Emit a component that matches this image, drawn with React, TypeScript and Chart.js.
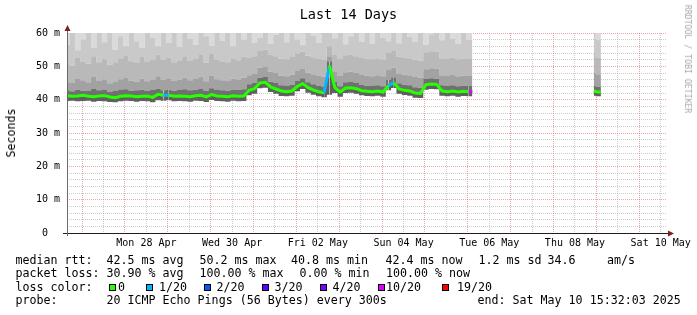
import React, { useEffect, useRef } from "react";
import { Chart, registerables } from "chart.js";

Chart.register(...registerables);

const FONT = "'DejaVu Sans Mono', monospace";

// hours since graph start (Sat 26 Apr 15:32:03); null row marks the data gap
const times = [
  0, 3, 6, 9, 12, 15, 18, 21, 24, 27, 30, 33, 36, 39, 42, 45, 48, 51, 54, 57,
  60, 63, 66, 69, 72, 75, 78, 81, 84, 87, 90, 93, 96, 99, 102, 105, 108, 111, 114, 117,
  120, 123, 126, 129, 132, 135, 138, 141, 144, 147, 150, 153, 156, 159, 162, 165, 168, 171, 174, 177,
  180, 183, 186, 189, 192, 195, 198, 201, 204, 207, 210, 213, 216, 219, 222, 225, 227,
  230,
  295, 297, 299,
];

const median = [
  41.2, 41.0, 41.1, 41.3, 41.0, 40.9, 41.1, 41.2, 40.8, 40.6,
  41.0, 41.2, 41.1, 40.9, 41.0, 41.1, 40.7, 41.6, 41.3, 41.3,
  41.0, 41.1, 41.0, 40.9, 41.2, 41.3, 40.8, 41.5, 41.1, 41.0,
  40.9, 41.2, 41.0, 41.1,
  42.8, 43.3, 45.0, 45.2, 43.8, 43.2, 42.6, 42.4, 42.6, 44.0,
  44.8, 43.6, 42.9, 42.4, 42.1, 50.2, 43.6, 42.3, 43.5, 43.6,
  43.3, 42.7, 42.5, 42.4, 42.6, 42.3, 44.2, 45.1, 43.2, 42.8,
  42.6, 42.0, 41.9, 44.5, 44.7, 44.6, 42.6, 42.4, 42.6, 42.3,
  42.5, 42.4, 42.4,
  null,
  42.6, 42.3, 42.3,
];

// lost pings out of 20 for each step
const lossCount = [
  0, 0, 0, 0, 0, 0, 0, 0, 0, 0,
  0, 0, 0, 0, 0, 0, 0, 0, 0, 1,
  0, 0, 0, 0, 0, 0, 0, 0, 0, 0,
  0, 0, 0, 0,
  0, 0, 0, 0, 0, 0, 0, 0, 0, 0,
  0, 0, 0, 0, 0, 1, 0, 0, 0, 0,
  0, 0, 0, 0, 0, 0, 0, 1, 0, 0,
  0, 0, 0, 0, 0, 0, 0, 0, 0, 0,
  0, 0, 10,
  null,
  0, 0, 0,
];

const smokeLow = [
  39.6, 39.7, 39.5, 39.6, 39.7, 39.4, 39.6, 39.5, 39.3, 39.2,
  39.5, 39.7, 39.6, 39.4, 39.6, 39.5, 39.2, 39.8, 39.7, 39.8,
  39.5, 39.6, 39.5, 39.4, 39.7, 39.6, 39.3, 39.9, 39.6, 39.5,
  39.4, 39.7, 39.5, 39.6,
  41.3, 41.8, 43.4, 43.6, 42.3, 41.8, 41.1, 41.0, 41.2, 42.5,
  43.2, 42.1, 41.5, 41.0, 40.7, 41.5, 42.0, 40.9, 42.0, 42.1,
  41.8, 41.3, 41.1, 41.0, 41.2, 40.9, 42.8, 43.5, 41.8, 41.4,
  41.2, 40.6, 40.5, 43.0, 43.2, 43.1, 41.2, 41.0, 41.2, 40.9,
  41.1, 41.0, 41.0,
  null,
  41.2, 41.0, 41.0,
];

const smokeDark = [
  42.8, 42.5, 43.0, 42.7, 42.6, 43.2, 42.8, 42.9, 42.4, 42.6,
  42.9, 43.1, 42.7, 42.8, 43.0, 42.6, 42.9, 43.3, 42.8, 43.0,
  42.7, 42.9, 43.1, 42.8, 43.0, 43.2, 42.6, 43.4, 42.9, 42.8,
  42.7, 43.0, 42.9, 43.1,
  44.6, 45.0, 46.6, 46.8, 45.4, 45.0, 44.3, 44.1, 44.4, 45.6,
  46.4, 45.2, 44.6, 44.1, 43.9, 51.5, 45.3, 44.0, 45.2, 45.3,
  45.0, 44.4, 44.2, 44.1, 44.3, 44.0, 45.9, 46.7, 44.9, 44.5,
  44.3, 43.7, 43.6, 46.2, 46.4, 46.3, 44.3, 44.1, 44.3, 44.0,
  44.2, 44.1, 44.1,
  null,
  44.2, 43.8, 43.8,
];

const smokeMid = [
  45.5, 45.0, 46.2, 45.8, 45.2, 46.8, 45.6, 46.0, 44.9, 45.3,
  46.1, 46.5, 45.7, 45.4, 46.3, 45.5, 45.9, 47.0, 46.0, 46.4,
  45.6, 46.0, 46.6, 45.8, 46.2, 46.9, 45.5, 47.2, 46.1, 45.8,
  45.6, 46.3, 45.9, 46.6,
  47.3, 47.8, 49.6, 49.8, 48.4, 48.0, 47.2, 47.0, 47.5, 48.6,
  49.2, 48.1, 47.6, 47.1, 46.9, 53.0, 48.3, 47.1, 48.2, 48.4,
  48.0, 47.4, 47.2, 47.0, 47.3, 47.0, 48.9, 49.6, 47.8, 47.5,
  47.3, 46.8, 46.6, 49.1, 49.4, 49.3, 47.3, 47.1, 47.4, 47.0,
  47.2, 47.1, 47.1,
  null,
  48.2, 47.6, 47.6,
];

const smokeLight = [
  51.0, 50.2, 52.5, 51.4, 50.8, 53.0, 51.2, 52.1, 50.5, 51.0,
  52.4, 53.2, 51.5, 51.0, 52.8, 51.3, 51.9, 53.5, 52.0, 52.6,
  51.2, 51.8, 53.0, 51.6, 52.2, 53.4, 51.1, 53.8, 52.0, 51.5,
  51.2, 52.4, 51.8, 52.9,
  52.5, 53.0, 54.6, 55.0, 53.4, 53.0, 52.3, 52.1, 52.8, 53.8,
  54.4, 53.2, 52.7, 52.2, 52.0, 56.0, 53.4, 52.2, 53.3, 53.5,
  53.0, 52.5, 52.3, 52.1, 52.4, 52.0, 54.0, 54.8, 52.9, 52.6,
  52.4, 51.9, 51.7, 54.2, 54.5, 54.4, 52.4, 52.2, 52.5, 52.1,
  52.3, 52.2, 52.2,
  null,
  53.8, 52.6, 52.6,
];

// start of the outermost (lightest) smoke band; above 60 = off the chart
const smokeTop = [
  56.5, 60.5, 54.8, 58.0, 61, 55.5, 60.5, 57.2, 61, 55.0,
  59.0, 56.0, 61, 57.5, 55.5, 61, 58.5, 56.0, 61, 57.0,
  60.5, 55.8, 61, 58.2, 56.5, 61, 59.0, 56.2, 61, 57.6,
  60.5, 56.0, 61, 58.0,
  61, 57.0, 58.5, 61, 56.8, 59.5, 61, 57.2, 61, 58.0,
  56.5, 61, 59.2, 57.0, 61, 61, 58.4, 61, 56.6, 59.0,
  61, 57.4, 60.5, 56.8, 61, 58.6, 57.5, 61, 56.9, 61,
  58.8, 57.3, 61, 56.5, 59.6, 61, 57.8, 61, 58.2, 56.7,
  61, 57.9, 57.9,
  null,
  61, 58.0, 58.0,
];

const dayLabels = ["Mon 28 Apr", "Wed 30 Apr", "Fri 02 May", "Sun 04 May", "Tue 06 May", "Thu 08 May", "Sat 10 May"];
const FIRST_MIDNIGHT = 8.466; // hours from start to Sun 27 Apr 00:00
const RANGE_HOURS = 336;
const yMajor = [0, 10, 20, 30, 40, 50, 60];
const yMajorLabels = ["0  ", "10 m", "20 m", "30 m", "40 m", "50 m", "60 m"];

const lossColors: Record<number, string> = {
  0: "#26ff00", 1: "#00b8ff", 2: "#0059ff", 3: "#5e00ff", 4: "#7e00ff", 10: "#dd00ff", 19: "#ff0000",
};
const lossLegend = [
  { key: 0, label: "0" }, { key: 1, label: "1/20" }, { key: 2, label: "2/20" }, { key: 3, label: "3/20" },
  { key: 4, label: "4/20" }, { key: 10, label: "10/20" }, { key: 19, label: "19/20" },
];

const MAJOR_GRID = "rgba(222,79,79,0.5)";
const MINOR_GRID = "rgba(143,143,143,0.45)";

const pts = (arr: (number | null)[]) => times.map((t, i) => ({ x: t, y: arr[i] }));

const axesPlugin = {
  id: "rrdAxes",
  afterDraw(chart: any) {
    const { ctx, chartArea } = chart;
    const { left, right, top, bottom } = chartArea;
    ctx.save();
    ctx.lineWidth = 1;
    ctx.strokeStyle = "#1f1f1f";
    ctx.beginPath();
    ctx.moveTo(left - 4, bottom + 0.5);
    ctx.lineTo(right + 4, bottom + 0.5);
    ctx.stroke();
    ctx.strokeStyle = "#6a6a6a";
    ctx.beginPath();
    ctx.moveTo(left + 0.5, bottom + 3);
    ctx.lineTo(left + 0.5, top - 3);
    ctx.stroke();
    ctx.fillStyle = "#801f1f";
    ctx.beginPath();
    ctx.moveTo(left + 0.5, top - 8);
    ctx.lineTo(left + 3.5, top - 2);
    ctx.lineTo(left - 2.5, top - 2);
    ctx.closePath();
    ctx.fill();
    ctx.beginPath();
    ctx.moveTo(right + 7, bottom + 0.5);
    ctx.lineTo(right + 1, bottom - 2.5);
    ctx.lineTo(right + 1, bottom + 3.5);
    ctx.closePath();
    ctx.fill();
    ctx.restore();
  },
};

function bandDataset(arr: (number | null)[], fill: any, color: string, order: number) {
  return {
    data: pts(arr),
    borderWidth: 0,
    borderColor: "rgba(0,0,0,0)",
    backgroundColor: color,
    fill,
    stepped: "middle",
    pointRadius: 0,
    spanGaps: false,
    order,
  };
}

export default function App() {
  const ref = useRef<HTMLCanvasElement>(null);
  useEffect(() => {
    const xTicks: number[] = [];
    for (let j = 0; FIRST_MIDNIGHT + 12 * j < RANGE_HOURS; j++) xTicks.push(FIRST_MIDNIGHT + 12 * j);
    const yTicks: number[] = [];
    for (let v = 0; v <= 60; v += 2) yTicks.push(v);

    const chart = new Chart(ref.current as HTMLCanvasElement, {
      type: "line",
      data: {
        datasets: [
          {
            data: pts(median),
            borderWidth: 3,
            borderColor: lossColors[0],
            segment: {
              borderColor: (c: any) => lossColors[lossCount[c.p1DataIndex] ?? 0] || lossColors[0],
            },
            backgroundColor: "#707070",
            fill: 1,
            pointRadius: 0,
            tension: 0,
            spanGaps: false,
            order: 1,
          } as any,
          bandDataset(smokeDark, 2, "#a2a2a2", 3),
          bandDataset(smokeMid, 3, "#b9b9b9", 4),
          bandDataset(smokeLight, 4, "#c9c9c9", 5),
          bandDataset(smokeTop, "end", "#dadada", 6),
          bandDataset(smokeLow, 0, "#606060", 2),
        ],
      },
      options: {
        animation: false,
        responsive: false,
        maintainAspectRatio: false,
        devicePixelRatio: 1,
        layout: { padding: { left: 0, right: 30, top: 33, bottom: 0 } },
        plugins: { legend: { display: false }, tooltip: { enabled: false }, title: { display: false } },
        scales: {
          x: {
            type: "linear",
            min: 0,
            max: RANGE_HOURS,
            z: 1,
            afterFit: (s: any) => { s.height = 82; },
            afterBuildTicks: (s: any) => { s.ticks = xTicks.map((v) => ({ value: v })); },
            grid: {
              drawTicks: false,
              lineWidth: 1,
              color: (c: any) => (c.index % 2 === 0 ? MAJOR_GRID : MINOR_GRID),
            },
            border: { display: false, dash: [1, 1] },
            ticks: {
              autoSkip: false,
              maxRotation: 0,
              padding: 4,
              color: "#000",
              font: { family: FONT, size: 10 },
              callback: (_v: any, i: number) => ((i - 3) % 4 === 0 && i >= 3 ? dayLabels[(i - 3) / 4] : ""),
            },
          },
          y: {
            min: 0,
            max: 60,
            z: 1,
            afterFit: (s: any) => { s.width = 67; },
            afterBuildTicks: (s: any) => { s.ticks = yTicks.map((v) => ({ value: v })); },
            grid: {
              drawTicks: false,
              lineWidth: 1,
              color: (c: any) => {
                const v = c.tick ? c.tick.value : 0;
                if (v === 0) return "rgba(0,0,0,0)";
                return v % 10 === 0 ? MAJOR_GRID : MINOR_GRID;
              },
            },
            border: { display: false, dash: [1, 1] },
            ticks: {
              autoSkip: false,
              padding: 7,
              color: "#000",
              font: { family: FONT, size: 10 },
              callback: (v: any) => {
                const idx = yMajor.indexOf(Number(v));
                return idx >= 0 ? yMajorLabels[idx] : "";
              },
            },
          },
        },
      },
      plugins: [axesPlugin],
    } as any);
    return () => chart.destroy();
  }, []);

  const txt = (x: number, cy: number, s: string, extra: any = {}) => (
    <div
      key={`${x}-${cy}-${s}`}
      style={{
        position: "absolute",
        left: x,
        top: cy - 7,
        height: 14,
        lineHeight: "14px",
        whiteSpace: "pre",
        fontFamily: FONT,
        fontSize: 11.65,
        color: "#000",
        ...extra,
      }}
    >
      {s}
    </div>
  );

  const squareX = [109, 145.5, 203.5, 261.5, 319.5, 377.5, 441.5];
  const squareLabelX = [118, 159, 216.5, 274.5, 332.5, 386, 457];

  return (
    <div style={{ position: "fixed", left: 0, top: 0, width: 697, height: 315, background: "#fff", overflow: "hidden" }}>
      <canvas ref={ref} width={697} height={315} style={{ position: "absolute", left: 0, top: 0, width: 697, height: 315 }} />
      <div style={{ position: "absolute", left: 0, top: 6, width: 697, textAlign: "center", fontFamily: FONT, fontSize: 13.5, lineHeight: "16px", color: "#000" }}>
        Last 14 Days
      </div>
      <div style={{ position: "absolute", left: 11, top: 133, transform: "translate(-50%,-50%) rotate(-90deg)", fontFamily: FONT, fontSize: 11.65, lineHeight: "14px", whiteSpace: "pre", color: "#000" }}>
        Seconds
      </div>
      <div style={{ position: "absolute", left: 688, top: 59, transform: "translate(-50%,-50%) rotate(90deg)", fontFamily: FONT, fontSize: 8.2, lineHeight: "10px", whiteSpace: "pre", color: "#a8a8a8" }}>
        RRDTOOL / TOBI OETIKER
      </div>
      {txt(15.5, 259.5, "median rtt:")}
      {txt(106.5, 259.5, "42.5 ms avg")}
      {txt(199.5, 259.5, "50.2 ms max")}
      {txt(291, 259.5, "40.8 ms min")}
      {txt(385.5, 259.5, "42.4 ms now")}
      {txt(478.5, 259.5, "1.2 ms sd")}
      {txt(547.5, 259.5, "34.6")}
      {txt(607, 259.5, "am/s")}
      {txt(15.5, 273, "packet loss:")}
      {txt(106.5, 273, "30.90 % avg")}
      {txt(199.5, 273, "100.00 % max")}
      {txt(299.5, 273, "0.00 % min")}
      {txt(386, 273, "100.00 % now")}
      {txt(15.5, 286.5, "loss color:")}
      {lossLegend.map((l, i) => (
        <React.Fragment key={l.key}>
          <div style={{ position: "absolute", left: squareX[i], top: 284, width: 7, height: 7, boxSizing: "border-box", border: "1px solid #000", background: lossColors[l.key] }} />
          {txt(squareLabelX[i], 286.5, l.label)}
        </React.Fragment>
      ))}
      {txt(15.5, 300, "probe:")}
      {txt(106.5, 300, "20 ICMP Echo Pings (56 Bytes) every 300s")}
      {txt(477.5, 300, "end: Sat May 10 15:32:03 2025")}
    </div>
  );
}
